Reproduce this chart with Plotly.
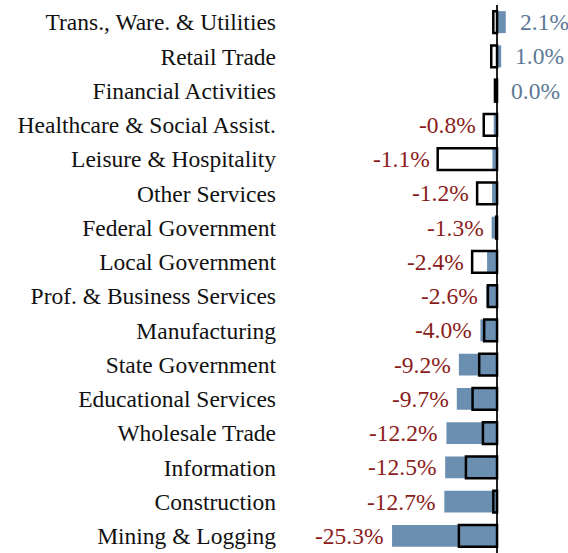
import plotly.graph_objects as go

categories = [
    "Trans., Ware. & Utilities", "Retail Trade", "Financial Activities",
    "Healthcare & Social Assist.", "Leisure & Hospitality", "Other Services",
    "Federal Government", "Local Government", "Prof. & Business Services",
    "Manufacturing", "State Government", "Educational Services",
    "Wholesale Trade", "Information", "Construction", "Mining & Logging",
]
change = [2.1, 1.0, 0.0, -0.8, -1.1, -1.2, -1.3, -2.4, -2.6, -4.0,
          -9.2, -9.7, -12.2, -12.5, -12.7, -25.3]
prior = [-0.9, -1.4, -0.5, -3.2, -14.3, -4.8, -0.2, -6.0, -2.2, -3.1,
         -4.3, -5.9, -3.4, -7.5, -0.9, -9.2]

BLUE = "#6b8fb1"
RED = "#8b1c1c"
POSBLUE = "#5d7895"
FONT = "Liberation Serif"

fig = go.Figure()
fig.add_trace(go.Bar(
    y=categories, x=change, orientation="h",
    marker=dict(color=BLUE, line=dict(width=0)),
    width=0.64, showlegend=False, hoverinfo="x+y",
))
fig.add_trace(go.Bar(
    y=categories, x=prior, orientation="h",
    marker=dict(color="rgba(0,0,0,0)", line=dict(color="black", width=2.5)),
    width=0.64, showlegend=False, hoverinfo="x+y",
))

for cat, v, p in zip(categories, change, prior):
    if v >= 0:
        fig.add_annotation(x=max(v, 0), y=cat, text=f"{v:.1f}%",
                           xanchor="left", xshift=12, showarrow=False,
                           font=dict(family=FONT, size=23.5, color=POSBLUE))
    else:
        fig.add_annotation(x=min(v, p), y=cat, text=f"{v:.1f}%",
                           xanchor="right", xshift=-6, showarrow=False,
                           font=dict(family=FONT, size=23.5, color=RED))

fig.update_layout(
    width=568, height=553,
    barmode="overlay",
    margin=dict(l=285, r=0, t=5, b=0),
    plot_bgcolor="white", paper_bgcolor="white",
    font=dict(family=FONT, size=23.5, color="#111111"),
    xaxis=dict(range=[-51.1, 17.1], showgrid=False, showticklabels=False,
               zeroline=True, zerolinecolor="#222222", zerolinewidth=1.5,
               fixedrange=True),
    yaxis=dict(autorange="reversed", showgrid=False, ticks="",
               ticklabelstandoff=8,
               tickfont=dict(family=FONT, size=23.5, color="#111111"),
               fixedrange=True),
)

fig.write_html("out.html",
               config={"displayModeBar": False},
               post_script="document.body.style.margin='0';document.body.style.overflow='hidden';")
